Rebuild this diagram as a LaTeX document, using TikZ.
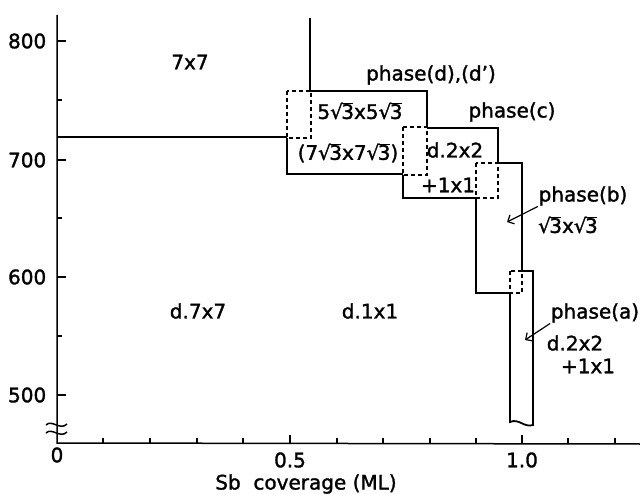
\documentclass[tikz,border=0pt]{standalone}
\usepackage{fontspec}
\setmainfont{DejaVu Sans}[FakeBold=1.5]
\usetikzlibrary{arrows.meta, positioning}
\newcommand\rtt{√\kern-0.08em\rlap{\rule[0.74em]{0.6em}{0.07em}}3}

\begin{document}
\begin{tikzpicture}[x=1pt, y=-1pt, line width=1.5pt, lbl/.style={font=\fontsize{20}{23}\selectfont, inner sep=0pt}, bnd/.style={line width=1.8pt}, dbox/.style={line width=1.8pt, dash pattern=on 4pt off 3pt}, ar/.style={-{Straight Barb[length=5pt]}, line width=1.2pt}]
  \useasboundingbox (0,0) rectangle (640,494);
  % axes
  \draw (57,15) -- (57,443) -- (640,444);
  \foreach \y/\t in {41/800,160/700,277/600,395/500}{\draw (57,\y) -- (66,\y); \node[lbl,anchor=east] (y\t) at (47,\y) {\t};}
  \foreach \y in {100,218,336}{\draw (57,\y) -- (62,\y);}
  \foreach \x in {103,150,197,243,337,383,430,476,568,615}{\draw (\x,443) -- (\x,438);}
  \foreach \x in {290,522}{\draw (\x,443) -- (\x,435);}
  \draw (46,425) .. controls (52,419) and (60,431) .. (67,424);
  \draw (46,433) .. controls (52,427) and (60,439) .. (67,432);
  \node[lbl] (x0) at (57,455) {0};
  \node[lbl] (x05) at (290,460) {0.5};
  \node[lbl] (x10) at (522,460) {1.0};
  \node[lbl] (xlab) at (306,484) {Sb\ \ coverage (ML)};
  % phase boundaries
  \draw[bnd] (57,137) -- (287,137);
  \draw[bnd] (310,18) -- (310,91) -- (427,91) -- (427,127);
  \draw[bnd] (287,138) -- (287,174) -- (403,174);
  \draw[bnd] (427,128) -- (498,128) -- (498,163);
  \draw[bnd] (403,175) -- (403,198) -- (476,198);
  \draw[bnd] (498,163) -- (522,163) -- (522,271);
  \draw[bnd] (476,198) -- (476,293) -- (510,293);
  \draw[bnd] (522,271) -- (533,271) -- (533,425) .. controls (524,428) and (519,418) .. (510,422) -- (510,293);
  \draw[dbox] (287,91) rectangle (311,138);
  \draw[dbox] (403,127) rectangle (427,175);
  \draw[dbox] (476,163) rectangle (498,198);
  \draw[dbox] (510,271) rectangle (522,293);
  % labels
  \node[lbl] (s77) at (190,62) {7x7};
  \node[lbl] (phd) at (431,75) {phase(d),(d')};
  \node[lbl] (s55) at (360,111) {5\rtt x5\rtt};
  \node[lbl] (s77r) at (348,153) {(7\rtt x7\rtt)};
  \node[lbl] (phc) at (512,112) {phase(c)};
  \node[lbl] (c22) at (455,150) {d.2x2};
  \node[lbl] (c11) at (448,185) {+1x1};
  \node[lbl] (phb) at (583,196) {phase(b)};
  \node[lbl] (s33) at (568,225) {\rtt x\rtt};
  \node[lbl] (pha) at (595,313) {phase(a)};
  \node[lbl] (a22) at (575,343) {d.2x2};
  \node[lbl] (a11) at (588,366) {+1x1};
  \node[lbl] (d77) at (198,311) {d.7x7};
  \node[lbl] (d11) at (370,311) {d.1x1};
  \coordinate (btip) at (507,222);
  \coordinate (atip) at (525,340);
  \draw[ar] (phb.south west) -- (btip);
  \draw[ar] (pha.south west) -- (atip);
\end{tikzpicture}
\end{document}
